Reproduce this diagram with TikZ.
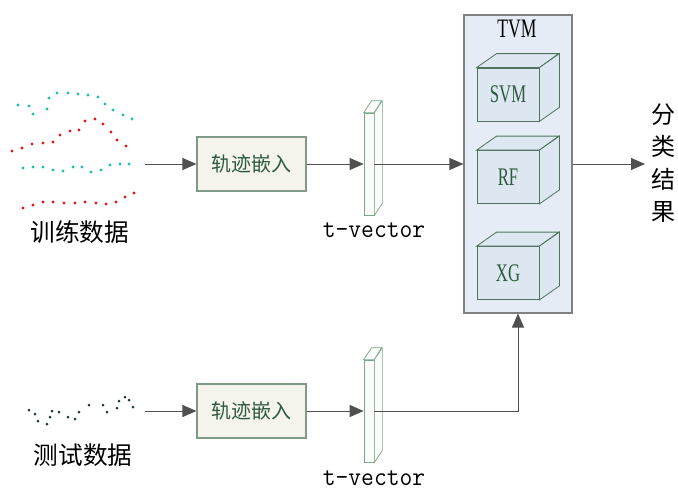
\documentclass[tikz,border=0pt]{standalone}
\usepackage{fontspec}
\usepackage{graphicx}
\setmainfont{Liberation Serif}
\newfontfamily\cjk{Noto Sans CJK SC}
\usetikzlibrary{arrows.meta,calc}
\definecolor{linegray}{HTML}{505050}
\definecolor{boxedge}{HTML}{7F9A86}
\definecolor{boxfill}{HTML}{F4F4EC}
\definecolor{txtgreen}{HTML}{2F5A40}
\definecolor{barfill}{HTML}{FBFDFB}
\definecolor{baredge}{HTML}{7AA886}
\definecolor{tvmfill}{HTML}{E6ECF6}
\definecolor{tvmedge}{HTML}{808080}
\definecolor{cubefill}{HTML}{DDE7F1}
\definecolor{cubeedge}{HTML}{4F735C}
\definecolor{dotteal}{HTML}{1FBFAE}
\definecolor{dotred}{HTML}{E01818}
\definecolor{dotdark}{HTML}{1E3A2C}
\tikzset{
  conn/.style={draw=linegray, line width=0.75pt},
  arr/.style={conn, -{Triangle[length=10.5pt,width=9pt]}},
  embedbox/.style={draw=boxedge, fill=boxfill, line width=0.8pt,
    minimum width=81.75pt, minimum height=40.5pt, inner sep=0pt,
    font=\cjk\fontsize{15}{15}\selectfont, text=txtgreen},
  barface/.style={draw=baredge, fill=barfill, line width=0.55pt,
    minimum width=7.5pt, minimum height=76.5pt, inner sep=0pt},
  bardepth/.style={draw=baredge, fill=barfill, line width=0.55pt},
  tvmbox/.style={draw=tvmedge, fill=tvmfill, line width=0.8pt,
    minimum width=81pt, minimum height=223.5pt, inner sep=0pt},
  cubeface/.style={draw=cubeedge, fill=cubefill, line width=0.6pt,
    minimum width=46.5pt, minimum height=39.75pt, inner sep=0pt,
    text=txtgreen},
  cubedepth/.style={draw=cubeedge, fill=cubefill, line width=0.6pt},
  biglabel/.style={font=\cjk\fontsize{18.5}{18.5}\selectfont, text=black, inner sep=0pt},
  veclabel/.style={font=\ttfamily\fontsize{20}{20}\selectfont, text=black, inner sep=0pt, anchor=base},
  tdot/.style={fill=dotteal},
  rdot/.style={fill=dotred},
  ddot/.style={fill=dotdark}
}
\newcommand{\condensed}[2]{\scalebox{#1}[1]{#2}}
\begin{document}
\begin{tikzpicture}[x=0.75pt,y=-0.75pt]
\useasboundingbox (0,0) rectangle (678,490);

% ---- sample trajectories ----
\foreach \p in {(18,105),(29,106),(33,114),(47,109),(49,98),(57,93),(68,93),(78,94),(88,95),(98,97),(105,104),(113,110),(123,115),(132,119),
                (23,168),(33,167),(43,167),(53,170),(63,171),(73,167),(82,167),(91,172),(101,170),(110,165),(120,164),(129,164)}
  \fill[tdot] \p circle (1.6);
\foreach \p in {(12,151),(22,148),(32,144),(43,143),(53,142),(60,135),(70,131),(79,130),(85,121),(95,119),(103,124),(111,132),(117,140),(126,146),
                (23,208),(33,205),(43,202),(53,202),(64,203),(75,203),(85,202),(96,203),(106,204),(116,202),(125,197),(134,193)}
  \fill[rdot] \p circle (1.6);
\foreach \p in {(29,410),(35,414),(38,421),(47,424),(50,417),(52,411),(59,412),(68,417),(75,419),(79,412),(89,405),(103,405),(107,412),(117,408),(119,401),(125,397),(129,400),(133,407)}
  \fill[ddot] \p circle (1.5);

\node[biglabel] (trainlbl) at (80,232) {训练数据};
\node[biglabel] (testlbl) at (83,455) {测试数据};
\coordinate (trainsrc) at (145,164);
\coordinate (testsrc) at (145,411);

% ---- trajectory embedding ----
\node[embedbox] (emb1) at (251.5,164) {轨迹嵌入};
\node[embedbox] (emb2) at (251.5,411) {轨迹嵌入};

% ---- t-vector bars ----
\foreach \b/\cy in {bar1/164,bar2/411}{
  \node[barface] (\b) at (369,\cy) {};
  \filldraw[bardepth] (\b.north west) -- ++(8,-12) -- ++(10,0) -- ($(\b.north east)$) -- cycle;
  \filldraw[bardepth] (\b.north east) -- ++(8,-12) -- ($(\b.south east)+(8,-12)$) -- (\b.south east) -- cycle;
}
\node[veclabel] (vec1) at (374,237) {\condensed{0.93}{t-vector}};
\node[veclabel] (vec2) at (374,485) {\condensed{0.93}{t-vector}};

% ---- TVM ensemble ----
\node[tvmbox] (tvm) at (518,164) {};
\node[inner sep=0pt, font=\fontsize{20}{20}\selectfont] (tvmlbl) at (517,29) {\condensed{0.66}{TVM}};
\foreach \c/\cy/\t in {svm/94.5/SVM,rf/177/RF,xg/273/XG}{
  \node[cubeface] (\c) at (508,\cy) {};
  \filldraw[cubedepth] (\c.north west) -- ++(20,-14) -- ++(62,0) -- (\c.north east) -- cycle;
  \filldraw[cubedepth] (\c.north east) -- ++(20,-14) -- ($(\c.south east)+(20,-14)$) -- (\c.south east) -- cycle;
  \node[inner sep=0pt, text=txtgreen, font=\fontsize{19}{19}\selectfont] at (\c) {\condensed{0.66}{\t}};
}

% ---- output ----
\coordinate (outend) at (645,164);
\node[font=\cjk\fontsize{18}{24.4}\selectfont, align=center, inner sep=0pt] (result) at (663,163) {分\\类\\结\\果};

% ---- connectors ----
\draw[arr] (trainsrc) -- (emb1.west);
\draw[arr] (emb1.east) -- (bar1.west);
\draw[arr] (bar1.east) -- (tvm.west);
\draw[arr] (testsrc) -- (emb2.west);
\draw[arr] (emb2.east) -- (bar2.west);
\draw[arr] (bar2.east) -| (tvm.south);
\draw[arr] (tvm.east) -- (outend);
\end{tikzpicture}
\end{document}
